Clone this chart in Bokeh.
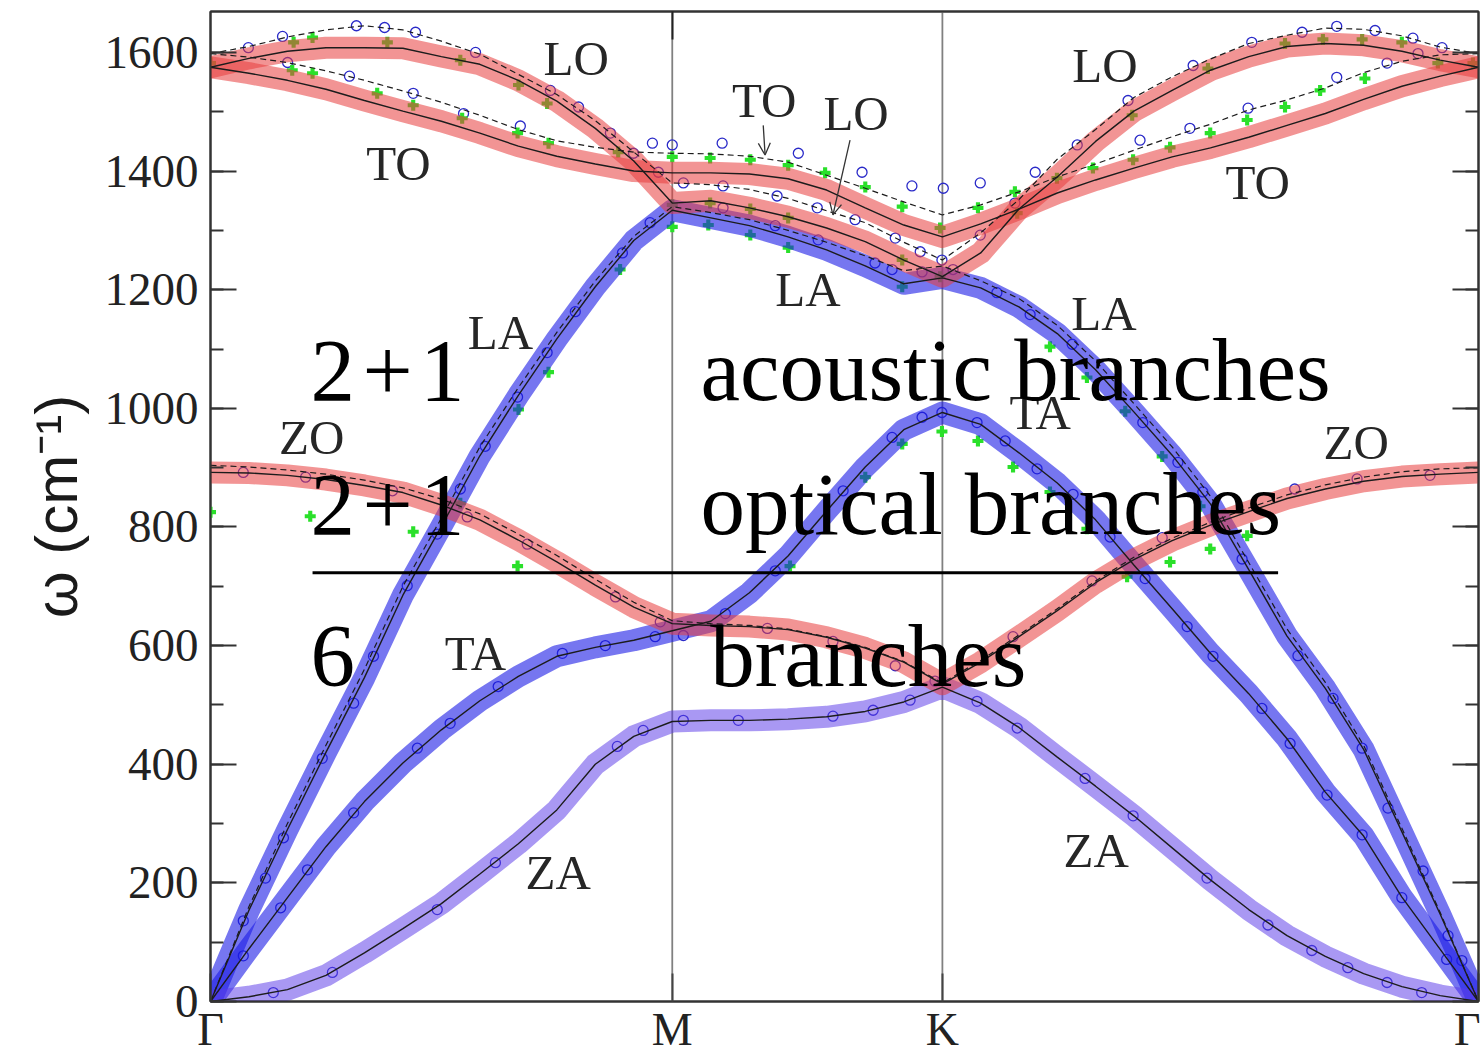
import numpy as np
from bokeh.plotting import figure
from bokeh.models import (Range1d, LinearAxis, FixedTicker, SingleIntervalTicker,
                          Span, Arrow, OpenHead, CustomJSTickFormatter)
from bokeh.core.properties import value
from bokeh.embed import file_html
from bokeh.resources import INLINE

# ---- path through the Brillouin zone (Γ–M taken as unit length) ----
PT_G0, PT_M, PT_K, PT_G1 = 0.0, 1.0, 1.585, 2.746
PATH_TICKS = [PT_G0, PT_M, PT_K, PT_G1]
PATH_LABELS = ["Γ", "M", "K", "Γ"]

# sampling positions: 12 steps Γ–M, 7 steps M–K, 14 steps K–Γ
Q = np.concatenate([np.linspace(PT_G0, PT_M, 13),
                    np.linspace(PT_M, PT_K, 8)[1:],
                    np.linspace(PT_K, PT_G1, 15)[1:]])

# ---- calculated dispersion (cm^-1), solid curves ----
LO = [1575, 1590, 1602, 1608, 1608, 1607, 1593, 1580, 1553, 1518, 1472, 1417, 1346,
      1350, 1338, 1323, 1304, 1281, 1250, 1222,
      1262, 1336, 1390, 1450, 1501, 1536, 1570, 1593, 1610, 1615, 1612, 1602, 1587, 1575]
TO = [1575, 1565, 1553, 1538, 1519, 1501, 1484, 1464, 1442, 1425, 1412, 1400, 1397,
      1397, 1395, 1387, 1368, 1338, 1309, 1289,
      1311, 1336, 1363, 1385, 1405, 1424, 1439, 1457, 1477, 1497, 1521, 1543, 1560, 1575]
ZO = [892, 891, 887, 880, 870, 858, 837, 812, 778, 741, 702, 665, 637,
      634, 632, 627, 614, 596, 572, 535,
      572, 615, 659, 706, 745, 777, 803, 826, 848, 864, 877, 885, 889, 892]
LA = [0, 154, 290, 420, 546, 685, 801, 920, 1022, 1117, 1205, 1283, 1334,
      1321, 1308, 1289, 1267, 1240, 1210, 1220,
      1203, 1171, 1126, 1065, 994, 921, 839, 728, 616, 528, 425, 286, 147, 0]
TA = [0, 89, 175, 261, 337, 402, 458, 507, 548, 582, 597, 609, 625,
      641, 689, 751, 827, 901, 964, 993,
      973, 925, 874, 812, 736, 662, 587, 519, 443, 353, 279, 176, 88, 0]
ZA = [0, 8, 20, 44, 82, 123, 165, 215, 266, 323, 400, 447, 472,
      474, 474, 476, 480, 489, 505, 530,
      503, 462, 412, 363, 313, 259, 205, 155, 111, 76, 47, 25, 10, 0]

# ---- second model, dashed curves ----
LO_ALT = [1598, 1610, 1626, 1638, 1645, 1638, 1619, 1597, 1563, 1529, 1485, 1432, 1380,
          1377, 1369, 1354, 1333, 1313, 1280, 1250,
          1296, 1352, 1420, 1470, 1524, 1559, 1589, 1615, 1629, 1641, 1639, 1628, 1609, 1598]
TO_ALT = [1598, 1592, 1583, 1569, 1553, 1535, 1516, 1494, 1470, 1451, 1440, 1432, 1430,
          1429, 1425, 1415, 1393, 1371, 1348, 1326,
          1343, 1365, 1390, 1412, 1435, 1458, 1479, 1503, 1520, 1540, 1566, 1585, 1596, 1598]
ZO_ALT = [904, 901, 896, 889, 879, 866, 847, 822, 788, 752, 712, 673, 642,
          637, 634, 628, 615, 597, 573, 537,
          575, 618, 662, 709, 749, 781, 808, 832, 854, 871, 884, 893, 898, 900]
LA_ALT = [0, 160, 300, 432, 560, 700, 815, 935, 1035, 1128, 1215, 1290, 1340,
          1330, 1318, 1300, 1280, 1257, 1232, 1240,
          1215, 1185, 1140, 1080, 1008, 935, 852, 740, 628, 538, 432, 292, 150, 0]

# ---- open circles (reference data set) ----
OPT_Q = [0.082, 0.156, 0.316, 0.377, 0.444, 0.574, 0.736, 0.797, 0.866, 0.916, 0.957, 1.000, 0.970,
         0.167, 0.301, 0.439, 0.548, 0.671,
         1.108, 1.273, 1.411, 1.519, 1.587, 1.667,
         1.024, 1.110, 1.227, 1.314, 1.396, 1.483, 1.537, 1.584, 1.667,
         1.110, 1.223, 1.316, 1.439, 1.476, 1.541, 1.608,
         1.786, 1.877, 1.987, 2.128, 2.255, 2.364, 2.439, 2.522, 2.604, 2.667,
         1.742, 2.013, 2.121, 2.247, 2.439, 2.548, 2.615]
OPT_W = [1608, 1627, 1645, 1642, 1634, 1600, 1536, 1508, 1464, 1430, 1447, 1444, 1398,
         1583, 1560, 1531, 1497, 1476,
         1447, 1430, 1398, 1375, 1371, 1380,
         1380, 1375, 1358, 1338, 1318, 1287, 1264, 1250, 1292,
         1338, 1308, 1284, 1245, 1234, 1230, 1234,
         1398, 1444, 1519, 1578, 1617, 1634, 1644, 1637, 1624, 1608,
         1346, 1452, 1472, 1506, 1558, 1582, 1598]
LA_EXP_Q = [0.071, 0.119, 0.158, 0.242, 0.310, 0.353, 0.426, 0.491, 0.541, 0.595, 0.665, 0.729,
            0.790, 0.892, 0.952, 1.703, 1.775, 1.866, 2.019, 2.095, 2.149, 2.234, 2.355, 2.431,
            2.494, 2.550, 2.626, 2.680, 2.710]
LA_EXP_W = [136, 208, 276, 410, 503, 582, 701, 788, 864, 936, 1019, 1094,
            1163, 1262, 1313, 1195, 1158, 1108, 976, 909, 859, 746, 583, 511,
            427, 326, 220, 111, 69]
TA_EXP_Q = [0.071, 0.152, 0.210, 0.310, 0.448, 0.519, 0.623, 0.762, 0.855, 0.963, 1.024,
            1.115, 1.223, 1.370, 1.476, 1.541, 1.584, 1.660, 1.721, 1.790, 1.868, 1.948,
            2.024, 2.115, 2.171, 2.277, 2.338, 2.418, 2.494, 2.580, 2.677]
TA_EXP_W = [77, 158, 222, 318, 427, 469, 531, 587, 600, 615, 617,
            654, 726, 861, 951, 985, 993, 976, 945, 898, 855, 783,
            713, 632, 582, 494, 435, 348, 281, 175, 71]
ZO_EXP_Q = [0.071, 0.206, 0.394, 0.556, 0.686, 0.877, 0.974, 1.206, 1.348, 1.483, 1.569,
            1.738, 1.909, 2.061, 2.348, 2.483, 2.641]
ZO_EXP_W = [892, 884, 861, 817, 771, 682, 640, 629, 607, 566, 540,
            615, 709, 782, 864, 881, 887]
ZA_EXP_Q = [0.136, 0.264, 0.491, 0.617, 0.881, 0.937, 1.024, 1.143, 1.348, 1.435, 1.515,
            1.660, 1.747, 1.894, 1.998, 2.158, 2.290, 2.385, 2.463, 2.548, 2.623]
ZA_EXP_W = [15, 49, 155, 234, 430, 457, 474, 474, 481, 491, 508,
            506, 461, 376, 313, 208, 129, 86, 57, 32, 15]

# ---- green crosses (second reference set) ----
GRN_Q = [0.000, 0.180, 0.221, 0.383, 0.541, 0.667, 0.729, 0.883,
         0.177, 0.221, 0.361, 0.439, 0.545, 0.665, 0.732,
         1.000, 1.082, 1.169, 1.251, 1.331, 1.418, 1.498, 1.580, 1.662,
         1.000, 1.082, 1.169, 1.251, 1.498, 1.580,
         1.000, 1.078, 1.169, 1.251, 1.498,
         0.667, 0.732, 0.887, 0.541,
         0.000, 0.216, 0.439, 0.665, 2.078, 2.165, 2.245,
         1.255, 1.418, 1.498, 1.584, 1.662, 1.738, 1.818, 1.898, 1.985,
         1.818, 1.898, 1.981, 2.061, 2.143,
         1.742, 1.833, 1.996, 2.160, 2.327, 2.409, 2.494, 2.580, 2.658, 2.734,
         1.747, 1.911, 1.998, 2.078, 2.165, 2.245, 2.327, 2.403, 2.500]
GRN_W = [1582, 1617, 1625, 1617, 1587, 1545, 1514, 1432,
         1570, 1565, 1531, 1511, 1489, 1464, 1447,
         1424, 1422, 1419, 1410, 1397, 1373, 1340, 1304, 1338,
         1343, 1346, 1336, 1321, 1250, 1222,
         1306, 1309, 1292, 1271, 1205,
         998, 1061, 1234, 840,
         825, 818, 792, 734, 741, 763, 785,
         734, 884, 940, 961, 945, 901, 859, 797, 716,
         1104, 1052, 995, 919, 835,
         1365, 1388, 1494, 1573, 1615, 1622, 1622, 1617, 1582, 1582,
         1329, 1405, 1419, 1440, 1464, 1486, 1508, 1536, 1556]

# ---- branch names ----
BRANCH_TXT = ["LO", "TO", "TO", "LO", "LA", "LA", "LO", "TO", "LA",
              "ZO", "TA", "ZO", "TA", "ZA", "ZA"]
BRANCH_Q = [0.792, 0.407, 1.199, 1.398, 0.628, 1.294, 1.937, 2.268, 1.935,
            0.219, 1.797, 2.481, 0.574, 0.753, 1.918]
BRANCH_W = [1590, 1413, 1519, 1497, 1128, 1200, 1578, 1380, 1160,
            951, 993, 943, 587, 217, 254]

# ---- branch count summary ----
SUM_LEFT = ["2\u200a+\u200a1", "2\u200a+\u200a1", "6"]
SUM_RIGHT = ["acoustic branches", "optical branches", "branches"]
SUM_W = [1065, 839, 583]
SUM_X_LEFT = 0.2165
SUM_X_RIGHT = [1.061, 1.061, 1.082]
RULE_X = (0.221, 2.312)
RULE_W = 723

RED, BLUE, VIOLET = "#e83c3c", "#1a1ae6", "#5a3ae8"
INK = "#1c1c1c"
FRAME = "#333333"

p = figure(width=1480, height=1057,
           x_range=Range1d(PT_G0, PT_G1), y_range=Range1d(0, 1669),
           output_backend="svg", toolbar_location=None,
           min_border_left=210, min_border_right=2,
           min_border_top=11, min_border_bottom=40)
p.xgrid.visible = False
p.ygrid.visible = False
p.outline_line_color = FRAME
p.outline_line_width = 2
p.background_fill_color = "white"
p.border_fill_color = "white"

blank = CustomJSTickFormatter(code="return ''")

# y axis (left) with inward ticks
ya = p.yaxis[0]
ya.ticker = SingleIntervalTicker(interval=200, num_minor_ticks=2)
ya.major_tick_in, ya.major_tick_out = 26, 0
ya.minor_tick_in, ya.minor_tick_out = 13, 0
ya.major_tick_line_width = 2
ya.minor_tick_line_width = 2
ya.major_tick_line_color = FRAME
ya.minor_tick_line_color = FRAME
ya.axis_line_color = FRAME
ya.axis_line_width = 2
ya.major_label_text_font = "Liberation Serif"
ya.major_label_text_font_size = "47px"
ya.major_label_text_color = "#222222"
ya.major_label_standoff = 12
ya.axis_label = "ω (cm⁻¹)"
ya.axis_label_text_font = "Liberation Sans"
ya.axis_label_text_font_size = "60px"
ya.axis_label_text_font_style = "normal"
ya.axis_label_text_color = "#1a1a1a"
ya.axis_label_standoff = 12

# mirrored ticks on the right
ra = LinearAxis(ticker=SingleIntervalTicker(interval=200, num_minor_ticks=2),
                formatter=blank,
                major_tick_in=26, major_tick_out=0, minor_tick_in=13, minor_tick_out=0,
                major_tick_line_width=2, minor_tick_line_width=2,
                major_tick_line_color=FRAME, minor_tick_line_color=FRAME,
                axis_line_color=FRAME, axis_line_width=2, major_label_standoff=0)
p.add_layout(ra, "right")

# x axis: high-symmetry points
xa = p.xaxis[0]
xa.ticker = FixedTicker(ticks=PATH_TICKS, minor_ticks=[])
xa.major_label_overrides = dict(zip(PATH_TICKS, PATH_LABELS))
xa.major_tick_in, xa.major_tick_out = 28, 0
xa.major_tick_line_width = 2
xa.major_tick_line_color = "#444444"
xa.axis_line_color = FRAME
xa.axis_line_width = 2
xa.major_label_text_font = "Liberation Serif"
xa.major_label_text_font_size = "46px"
xa.major_label_text_color = "#222222"
xa.major_label_standoff = 2

ta = LinearAxis(ticker=FixedTicker(ticks=[PT_M], minor_ticks=[]), formatter=blank,
                major_tick_in=28, major_tick_out=0, major_tick_line_width=2,
                major_tick_line_color="#222222", axis_line_color=FRAME,
                axis_line_width=2, major_label_standoff=0)
p.add_layout(ta, "above")

for loc in (PT_M, PT_K):
    p.add_layout(Span(location=loc, dimension="height", line_color="#808080",
                      line_width=1.8, level="underlay"))

# reference points (drawn first so the bands tint them)
circ = dict(marker="circle", size=10, fill_color=None, line_color="#2a2ac8", line_width=1.3)
for qs, ws in ((OPT_Q, OPT_W), (LA_EXP_Q, LA_EXP_W), (TA_EXP_Q, TA_EXP_W),
               (ZO_EXP_Q, ZO_EXP_W), (ZA_EXP_Q, ZA_EXP_W)):
    p.scatter(qs, ws, **circ)
p.scatter(GRN_Q, GRN_W, marker="plus", size=11, fill_color="#2ae02a", line_color=None)

# broad translucent bands marking each branch
band = dict(line_width=22, line_join="round", line_cap="round")
p.line(Q, LA, line_color=BLUE, line_alpha=0.6, **band)
p.line(Q, TA, line_color=BLUE, line_alpha=0.6, **band)
p.line(Q, ZA, line_color=VIOLET, line_alpha=0.52, **band)
p.line(Q, ZO, line_color=RED, line_alpha=0.55, **band)
p.line(Q, TO, line_color=RED, line_alpha=0.55, **band)
p.line(Q, LO, line_color=RED, line_alpha=0.55, **band)

# calculated curves
for br in (LO, TO, ZO, LA, TA, ZA):
    p.line(Q, br, line_color=INK, line_width=1.4)
for br in (LO_ALT, TO_ALT, ZO_ALT, LA_ALT):
    p.line(Q, br, line_color=INK, line_width=1.2, line_dash="6 4")

# branch names and pointers
p.text(BRANCH_Q, BRANCH_W, text=BRANCH_TXT, text_font=value("Liberation Serif"),
       text_font_size=value("49px"), text_color="#262626",
       text_align="center", text_baseline="middle")
p.add_layout(Arrow(end=OpenHead(size=12, line_width=1.3, line_color="#333333"),
                   x_start=1.197, y_start=1477, x_end=1.201, y_end=1427,
                   line_width=1.3, line_color="#333333"))
p.add_layout(Arrow(end=OpenHead(size=12, line_width=1.3, line_color="#333333"),
                   x_start=1.385, y_start=1452, x_end=1.348, y_end=1326,
                   line_width=1.3, line_color="#333333"))

# branch count summary
big = dict(text_font=value("Liberation Serif"), text_font_size=value("89px"),
           text_color="black", text_baseline="alphabetic", text_align="left")
p.text([SUM_X_LEFT] * 3, SUM_W, text=SUM_LEFT, **big)
p.text(SUM_X_RIGHT, SUM_W, text=SUM_RIGHT, **big)
p.segment(x0=[RULE_X[0]], y0=[RULE_W], x1=[RULE_X[1]], y1=[RULE_W],
          line_color="black", line_width=3)

open("out.html", "w").write(file_html(p, INLINE))
